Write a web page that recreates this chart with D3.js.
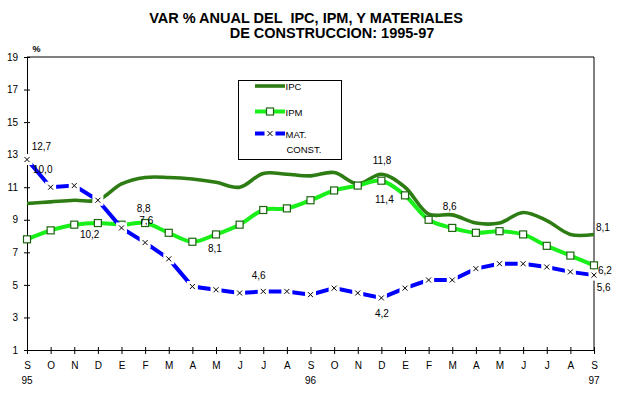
<!DOCTYPE html>
<html>
<head>
<meta charset="utf-8">
<script src="https://cdn.jsdelivr.net/npm/d3@7"></script>
<style>
  html, body { margin: 0; padding: 0; background: #fff; }
  svg { display: block; font-family: "Liberation Sans", Arial, sans-serif; }
</style>
</head>
<body>
<svg id="chart" width="640" height="397"></svg>
<script>
// ---- DATA ----
const months = ["S","O","N","D","E","F","M","A","M","J","J","A","S","O","N","D","E","F","M","A","M","J","J","A","S"];
const yearLabels = ["95","96","97"];
const yearIndex = [0, 12, 24];
const yTicks = [1,3,5,7,9,11,13,15,17,19];
const ipc = [10.0,10.1,10.2,10.2,11.2,11.6,11.6,11.5,11.3,11.0,11.85,11.8,11.7,11.9,11.2,11.8,11.0,9.35,9.3,8.8,8.8,9.45,8.95,8.1,8.1];
const ipm = [7.8,8.35,8.7,8.8,8.7,8.8,8.2,7.65,8.1,8.7,9.6,9.7,10.2,10.8,11.1,11.4,10.5,9.0,8.5,8.2,8.3,8.1,7.4,6.8,6.2];
const mat = [12.7,11.0,11.1,10.2,8.5,7.6,6.6,4.9,4.7,4.5,4.6,4.6,4.4,4.8,4.5,4.2,4.8,5.3,5.3,6.0,6.3,6.3,6.1,5.8,5.6];
const seriesNames = ["IPC","IPM","MAT.","CONST."];
const titleLines = ["VAR % ANUAL DEL  IPC, IPM, Y MATERIALES", "DE CONSTRUCCION: 1995-97"];
// data labels: series, month index, text
const labelSeries = ["mat","ipc","ipc","ipm","mat","ipm","mat","ipc","ipm","mat","ipm","ipc","ipm","mat"];
const labelIndex  = [0,0,3,5,5,8,10,15,15,15,18,24,24,24];
const labelText   = ["12,7","10,0","10,2","8,8","7,6","8,1","4,6","11,8","11,4","4,2","8,6","8,1","6,2","5,6"];

// ---- DRAWING ----
const svg = d3.select("#chart");
const x = d3.scaleLinear().domain([0, 24]).range([27, 594]);
const y = d3.scaleLinear().domain([1, 19]).range([350, 57]);
const seriesData = {ipc, ipm, mat};

const C_IPC = "#2e7d14", C_IPM = "#19f019", C_MK = "#1d6410", C_MAT = "#0000ff";

// title
svg.append("text").attr("x", 306).attr("y", 22.5).attr("text-anchor","middle")
  .attr("font-size", 14.5).attr("font-weight","bold").attr("xml:space","preserve").text(titleLines[0]);
svg.append("text").attr("x", 332).attr("y", 37.5).attr("text-anchor","middle")
  .attr("font-size", 14.5).attr("font-weight","bold").text(titleLines[1]);

// frame (top and right)
svg.append("line").attr("x1", 27).attr("x2", 594).attr("y1", 57).attr("y2", 57).attr("stroke","#000");
svg.append("line").attr("x1", 594).attr("x2", 594).attr("y1", 57).attr("y2", 350).attr("stroke","#000");

// y axis
const gy = svg.append("g").attr("transform","translate(27,0)")
  .call(d3.axisLeft(y).tickValues(yTicks).tickSize(3).tickPadding(6).tickFormat(d3.format("d")));
gy.selectAll(".tick line").attr("x1", 3);
gy.selectAll("text").attr("font-size", 10).attr("font-family","Liberation Sans, Arial, sans-serif");
gy.select(".domain").attr("d", `M0.5,${y(19)}V${y(1)}`);

// x axis
const gx = svg.append("g").attr("transform","translate(0,350)")
  .call(d3.axisBottom(x).tickValues(d3.range(25)).tickSize(4).tickPadding(8).tickFormat(i => months[i]));
gx.selectAll(".tick line").attr("y1", -3);
gx.selectAll("text").attr("font-size", 10).attr("font-family","Liberation Sans, Arial, sans-serif");
gx.select(".domain").attr("d", `M${x(0)},0.5H${x(24)}`);

svg.selectAll("text.year").data(yearIndex).enter().append("text").attr("class","year")
  .attr("x", d => x(d)).attr("y", 384).attr("text-anchor","middle").attr("font-size", 10)
  .text((d, i) => yearLabels[i]);

svg.append("text").attr("x", 32.5).attr("y", 52).attr("font-size", 9).attr("font-weight","bold").text("%");

// lines
const line = d3.line().x((d, i) => x(i)).y(d => y(d)).curve(d3.curveCatmullRom.alpha(0.5));
svg.append("path").attr("d", line(ipc)).attr("fill","none").attr("stroke", C_IPC).attr("stroke-width", 3.6);
svg.append("path").attr("d", line(ipm)).attr("fill","none").attr("stroke", C_IPM).attr("stroke-width", 4);
svg.selectAll("rect.ipm").data(ipm).enter().append("rect").attr("class","ipm")
  .attr("x", (d, i) => x(i) - 3.5).attr("y", d => y(d) - 3.5).attr("width", 7).attr("height", 7)
  .attr("fill","#fff").attr("stroke", C_MK).attr("stroke-width", 1.2);

const matLine = d3.line().x((d, i) => x(i)).y(d => y(d)).curve(d3.curveLinear);
svg.append("path").attr("d", matLine(mat)).attr("fill","none").attr("stroke", C_MAT).attr("stroke-width", 4);
const mg = svg.selectAll("g.mat").data(mat).enter().append("g").attr("class","mat")
  .attr("transform", (d, i) => `translate(${x(i)},${y(d)})`);
mg.append("rect").attr("x", -5.5).attr("y", -5.5).attr("width", 11).attr("height", 11).attr("fill","#fff");
mg.append("path").attr("d","M-2.5,-2.5L2.5,2.5M-2.5,2.5L2.5,-2.5").attr("stroke","#000").attr("stroke-width", 1);

// data labels
const labelDx = [4.7, 6, -17.9, -8.4, -5.8, -8, -11.6, -8.7, -6.4, -6.4, -9.6, 2, 4, 2.7];
const labelDy = [-9.6, -30.5, 37.8, -11, -18.6, 17.6, -12.4, -9.9, 22.6, 18.8, -18.3, -3.7, 8.6, 15.6];
svg.selectAll("text.dl").data(labelText).enter().append("text").attr("class","dl")
  .attr("x", (d, k) => x(labelIndex[k]) + labelDx[k])
  .attr("y", (d, k) => y(seriesData[labelSeries[k]][labelIndex[k]]) + labelDy[k])
  .attr("font-size", 10).text(d => d);

// legend
const lg = svg.append("g");
lg.append("rect").attr("x", 238.5).attr("y", 80.5).attr("width", 103).attr("height", 79)
  .attr("fill","#fff").attr("stroke","#000").attr("stroke-width", 1);
lg.append("line").attr("x1", 255).attr("x2", 285).attr("y1", 86).attr("y2", 86).attr("stroke", C_IPC).attr("stroke-width", 3.6);
lg.append("line").attr("x1", 255).attr("x2", 285).attr("y1", 111.5).attr("y2", 111.5).attr("stroke", C_IPM).attr("stroke-width", 4);
lg.append("rect").attr("x", 266.5).attr("y", 108).attr("width", 7).attr("height", 7).attr("fill","#fff").attr("stroke", C_MK).attr("stroke-width", 1.2);
lg.append("line").attr("x1", 255).attr("x2", 285).attr("y1", 133.5).attr("y2", 133.5).attr("stroke", C_MAT).attr("stroke-width", 4);
lg.append("rect").attr("x", 264.5).attr("y", 128).attr("width", 11).attr("height", 11).attr("fill","#fff");
lg.append("path").attr("d","M267.5,131L272.5,136M267.5,136L272.5,131").attr("stroke","#000");
lg.append("text").attr("x", 285.5).attr("y", 90).attr("font-size", 9.5).text(seriesNames[0]);
lg.append("text").attr("x", 285.5).attr("y", 115.5).attr("font-size", 9.5).text(seriesNames[1]);
lg.append("text").attr("x", 285.5).attr("y", 137.5).attr("font-size", 9.5).text(seriesNames[2]);
lg.append("text").attr("x", 286.5).attr("y", 153).attr("font-size", 9.5).text(seriesNames[3]);
</script>
</body>
</html>
